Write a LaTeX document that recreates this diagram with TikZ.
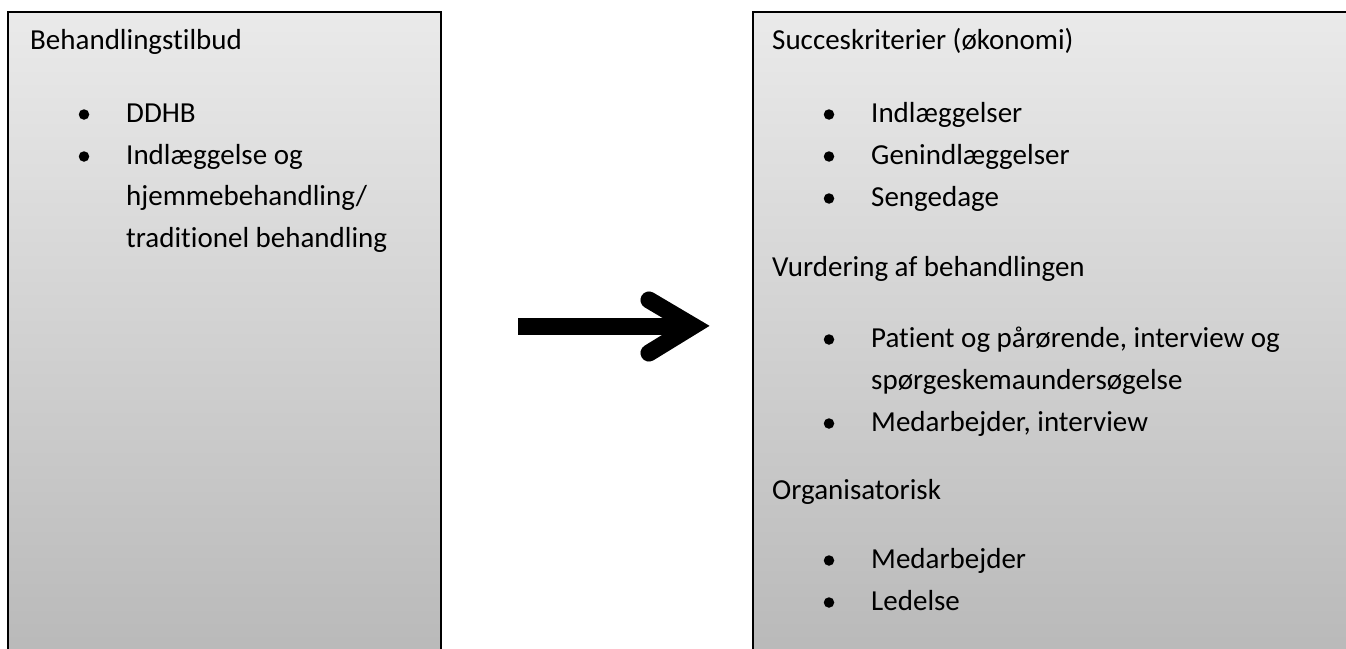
\documentclass[tikz,border=0pt]{standalone}
\usepackage{fontspec}
\setmainfont{Carlito}[Ligatures=NoCommon]
\begin{document}
\begin{tikzpicture}[x=1pt,y=-1pt,
  txt/.style={anchor=base west,inner sep=0pt,font=\fontsize{29}{34}\selectfont},
  bul/.style={circle,fill=black,inner sep=0pt,minimum size=10.5pt},
  panel/.style={draw=black,line width=2pt,top color=boxtop,bottom color=boxbot}]
\definecolor{boxtop}{HTML}{EAEAEA}
\definecolor{boxbot}{HTML}{B9B9B9}
\useasboundingbox (0,0) rectangle (1346,648);
\fill[white] (0,0) rectangle (1346,648);
% panels
\begin{scope}
\clip (0,0) rectangle (1346,648);
\path[panel] (8,12) rectangle (441,656);
\path[panel] (753,12) rectangle (1356,656);
\end{scope}
% left text
\node[txt] (lh) at (30,49) {Behandlingstilbud};
\node[bul] (lb1) at (84,114.5) {};
\node[txt] (l1) at (126,122) {DDHB};
\node[bul] (lb2) at (84,156.5) {};
\node[txt] (l2) at (126,164) {Indlæggelse og};
\node[txt] (l3) at (126,205.5) {hjemmebehandling/};
\node[txt] (l4) at (126,247) {traditionel behandling};
% right text
\node[txt] (rh) at (772,49) {Succeskriterier (økonomi)};
\node[bul] (rb1) at (829,114.5) {};
\node[txt] (r1) at (871,122) {Indlæggelser};
\node[bul] (rb2) at (829,156.5) {};
\node[txt] (r2) at (871,164) {Genindlæggelser};
\node[bul] (rb3) at (829,198.5) {};
\node[txt] (r3) at (871,206) {Sengedage};
\node[txt] (rh2) at (772,276) {Vurdering af behandlingen};
\node[bul] (rb4) at (829,339.5) {};
\node[txt] (r4) at (871,347) {Patient og pårørende, interview og};
\node[txt] (r5) at (871,389) {spørgeskemaundersøgelse};
\node[bul] (rb6) at (829,423.5) {};
\node[txt] (r6) at (871,431) {Medarbejder, interview};
\node[txt] (rh3) at (772,499) {Organisatorisk};
\node[bul] (rb7) at (829,560.5) {};
\node[txt] (r7) at (871,568) {Medarbejder};
\node[bul] (rb8) at (829,602.5) {};
\node[txt] (r8) at (871,610) {Ledelse};
% arrow
\coordinate (as) at (518,326);
\coordinate (av) at (693,326);
\coordinate (at) at (649,300);
\coordinate (ab) at (649,353);
\begin{scope}[shift={(2.5,3)}]
\draw[line width=17pt,gray!60] (as) -- (av);
\draw[line width=17pt,gray!60,line cap=round,miter limit=10] (at) -- (av) -- (ab);
\end{scope}
\draw[line width=17pt,black] (as) -- (av);
\draw[line width=17pt,black,line cap=round,miter limit=10] (at) -- (av) -- (ab);
\end{tikzpicture}
\end{document}
